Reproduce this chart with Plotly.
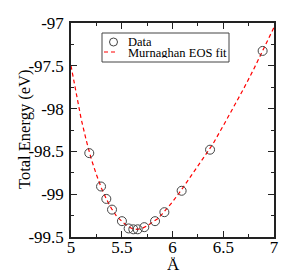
import plotly.graph_objects as go

# Data points (lattice constant in Å, total energy in eV)
data_a = [5.18, 5.296, 5.348, 5.404, 5.502, 5.568, 5.614, 5.657, 5.722, 5.828, 5.92, 6.09, 6.37, 6.888]
data_e = [-98.52, -98.91, -99.055, -99.18, -99.315, -99.40, -99.41, -99.41, -99.385, -99.315, -99.21, -98.96, -98.48, -97.326]

# Fit curve
fit_a = [5.0, 5.05, 5.10, 5.15, 5.20, 5.25, 5.30, 5.35, 5.40, 5.45, 5.50, 5.55, 5.60, 5.65,
         5.70, 5.75, 5.80, 5.85, 5.90, 6.0, 6.1, 6.2, 6.3, 6.4, 6.5, 6.6, 6.7, 6.8, 6.9, 7.0]
fit_e = [-97.50, -97.83, -98.12, -98.37, -98.59, -98.77, -98.93, -99.06, -99.17, -99.26,
         -99.32, -99.37, -99.40, -99.41, -99.40, -99.37, -99.33, -99.29, -99.23, -99.09,
         -98.93, -98.76, -98.58, -98.41, -98.20, -97.99, -97.77, -97.54, -97.30, -97.05]

x_tickvals = [5, 5.5, 6, 6.5, 7]
x_ticktext = ["5", "5.5", "6", "6.5", "7"]
y_tickvals = [-97, -97.5, -98, -98.5, -99, -99.5]
y_ticktext = ["-97", "-97.5", "-98", "-98.5", "-99", "-99.5"]

legend_labels = ["Data", "Murnaghan EOS fit"]
x_title = "Å"
y_title = "Total Energy (eV)"

FONT = "Liberation Serif"
OFF = 8  # page body margin
W, H = 299 - OFF, 277 - OFF
L, R, T, B = 71 - OFF, 25, 23 - OFF, 40
X0, X1 = 5.0, 7.0
Y0, Y1 = -99.5, -97.0
PW, PH = W - L - R, H - T - B


def px2x(px):
    return X0 + (px - OFF - L) / PW * (X1 - X0)


def py2y(py):
    return Y1 - (py - OFF - T) / PH * (Y1 - Y0)


def pxp(px):
    return (px - OFF - L) / PW


def pyp(py):
    return (H - B - (py - OFF)) / PH


fig = go.Figure()
fig.add_trace(go.Scatter(x=fit_a, y=fit_e, mode="lines",
                         line=dict(color="#ff0000", width=1.2, dash="4px,3px"),
                         showlegend=False))
fig.add_trace(go.Scatter(x=data_a, y=data_e, mode="markers",
                         marker=dict(symbol="circle-open", size=9, color="#444444",
                                     line=dict(color="#444444", width=1)),
                         showlegend=False))

# manual legend (xmgrace style)
fig.add_shape(type="rect", x0=px2x(102), x1=px2x(229), y0=py2y(33), y1=py2y(62),
              line=dict(color="#444444", width=1), fillcolor="white", layer="below")
fig.add_shape(type="circle", x0=px2x(109.5), x1=px2x(117.5), y0=py2y(38), y1=py2y(46),
              line=dict(color="#444444", width=1))
fig.add_shape(type="line", x0=px2x(104), x1=px2x(117), y0=py2y(52), y1=py2y(52),
              line=dict(color="#ff0000", width=1.2, dash="4px,3px"))
fig.add_annotation(x=px2x(126), y=py2y(41.5), text=legend_labels[0], showarrow=False,
                   xanchor="left", yanchor="middle", height=10,
                   font=dict(family=FONT, size=12.5, color="black"))
fig.add_annotation(x=px2x(126), y=py2y(52.5), text=legend_labels[1], showarrow=False,
                   xanchor="left", yanchor="middle", height=10,
                   font=dict(family=FONT, size=12.5, color="black"))

# axis titles
fig.add_annotation(xref="paper", yref="paper", x=pxp(24), y=pyp(129),
                   text=y_title, textangle=-90, showarrow=False,
                   xanchor="center", yanchor="middle",
                   font=dict(family=FONT, size=16.5, color="black"))
fig.add_annotation(xref="paper", yref="paper", x=pxp(173), y=pyp(264),
                   text=x_title, showarrow=False, height=15,
                   xanchor="center", yanchor="middle",
                   font=dict(family=FONT, size=17, color="black"))

axis_common = dict(showgrid=False, zeroline=False, showline=True, linecolor="#222222",
                   linewidth=1.5, mirror="ticks", ticks="inside", ticklen=6, tickwidth=1,
                   tickcolor="#222222", automargin=False,
                   tickfont=dict(family=FONT, size=17, color="black"))

fig.update_xaxes(range=[X0, X1], tickvals=x_tickvals, ticktext=x_ticktext,
                 minor=dict(dtick=0.25, ticks="inside", ticklen=3, tickcolor="#222222", tickwidth=1),
                 ticklabelstandoff=-6,
                 **axis_common)
fig.update_yaxes(range=[Y0, Y1], tickvals=y_tickvals, ticktext=y_ticktext,
                 minor=dict(dtick=0.25, ticks="inside", ticklen=3, tickcolor="#222222", tickwidth=1),
                 ticklabelstandoff=2,
                 **axis_common)

fig.update_layout(width=W, height=H, margin=dict(l=L, r=R, t=T, b=B),
                  plot_bgcolor="white", paper_bgcolor="white", showlegend=False)

fig.write_html("out.html")
